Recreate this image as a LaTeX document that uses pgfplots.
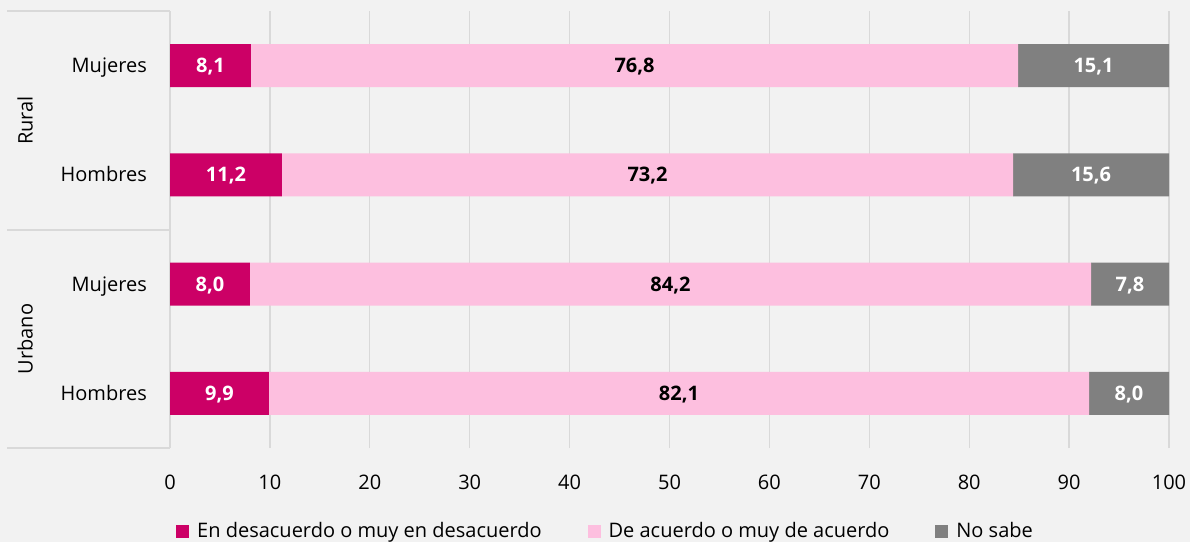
\documentclass[border=0pt]{standalone}
\usepackage{pgfplots}
\pgfplotsset{compat=1.18}
\usepackage{pgfplotstable}
\usepackage{fontspec}
\setmainfont{Open Sans}
\definecolor{mag}{HTML}{CC0066}
\definecolor{pinkc}{HTML}{FDBFDF}
\definecolor{grayc}{HTML}{808080}
\definecolor{bgc}{HTML}{F2F2F2}
\definecolor{gridc}{HTML}{D9D9D9}
\pgfplotstableread{
y a b c
0 9.9 82.1 8.0
1 8.0 84.2 7.8
2 11.2 73.2 15.6
3 8.1 76.8 15.1
}\data
\newcommand\cfont{\fontsize{20bp}{24bp}\selectfont}
\begin{document}
\cfont
\begin{tikzpicture}
\fill[bgc] (0,0) rectangle (1190bp,542bp);
\useasboundingbox (0,0) rectangle (1190bp,542bp);
\begin{axis}[
  at={(170bp,94bp)}, anchor=south west,
  scale only axis, width=999bp, height=437bp,
  xbar stacked, bar width=43bp,
  xmin=0, xmax=100, ymin=-0.5, ymax=3.5,
  xtick={0,10,...,100},
  ytick={0,1,2,3},
  yticklabels={Hombres,Mujeres,Hombres,Mujeres},
  axis line style={draw=none},
  major tick length=0pt,
  xmajorgrids, grid style={gridc, line width=1.3bp},
  /pgf/number format/assume math mode=true,
  tick label style={font=\cfont, inner sep=0pt},
  xticklabel style={anchor=center, yshift=-34bp},
  yticklabel style={anchor=base east, xshift=-23bp, yshift=-7.1bp},
  point meta=explicit,
  nodes near coords={\pgfmathprintnumber[fixed,fixed zerofill,precision=1,use comma]{\pgfplotspointmeta}},
  every node near coord/.append style={font=\cfont\bfseries, anchor=base, inner sep=0pt, yshift=-7.1bp},
  clip=false,
  legend style={at={(0.436,-0.190)}, anchor=center, draw=none, fill=none, legend columns=3,
    /tikz/every even column/.append style={column sep=44bp}, font=\cfont, inner sep=0pt},
  legend image code/.code={\fill[#1,draw=none] (0bp,-6.5bp) rectangle (13bp,6.5bp); \path (19bp,0bp);},
]
\addplot[fill=mag, draw=none, every node near coord/.append style={text=white}] table[x=a, y=y, meta=a] {\data};
\addplot[fill=pinkc, draw=none, every node near coord/.append style={text=black}] table[x=b, y=y, meta=b] {\data};
\addplot[fill=grayc, draw=none, every node near coord/.append style={text=white}] table[x=c, y=y, meta=c] {\data};
\legend{En desacuerdo o muy en desacuerdo, De acuerdo o muy de acuerdo, No sabe}
\end{axis}
\draw[gridc, line width=1.3bp] (7bp,531bp) -- (170bp,531bp);
\draw[gridc, line width=1.3bp] (7bp,312bp) -- (170bp,312bp);
\draw[gridc, line width=1.3bp] (7bp,94bp) -- (170bp,94bp);
\node[rotate=90, inner sep=0pt] at (25bp,421.5bp) {Rural};
\node[rotate=90, inner sep=0pt] at (25bp,203bp) {Urbano};
\end{tikzpicture}
\end{document}
